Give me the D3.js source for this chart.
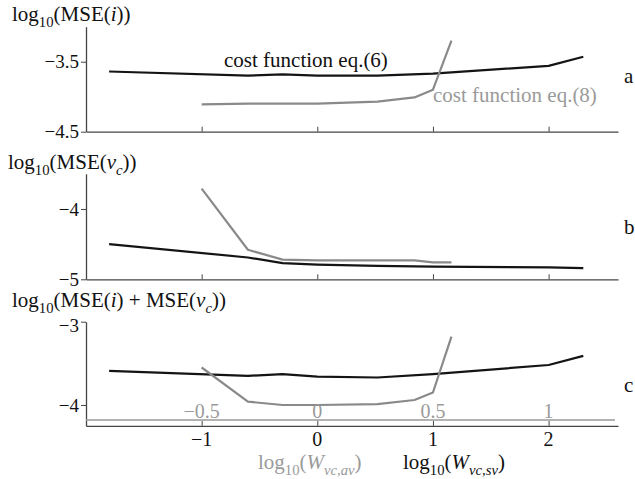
<!DOCTYPE html>
<html lang="en">
<head>
  <meta charset="utf-8">
  <title>MSE versus weights</title>
  <script src="https://d3js.org/d3.v7.js"></script>
  <style>
    body { margin: 0; background: #fff; }
  </style>
</head>
<body>
  <div id="my_dataviz"></div>

  <script>
    // x positions, log10(W_vc,sv) for eq.(6) and log10(W_vc,av) for eq.(8)
    var xSv = [-1.8, -0.6, -0.3, 0, 0.52, 1, 2, 2.3];
    var xAv = [-0.5, -0.3, -0.15, 0, 0.26, 0.42, 0.5, 0.58];

    // panel a : log10(MSE(i))
    var mseI_eq6 = [-3.64, -3.70, -3.68, -3.70, -3.70, -3.67, -3.56, -3.43];
    var mseI_eq8 = [-4.11, -4.10, -4.10, -4.10, -4.07, -4.01, -3.90, -3.20];
    // panel b : log10(MSE(vc))
    var mseV_eq6 = [-4.50, -4.69, -4.77, -4.79, -4.81, -4.82, -4.83, -4.84];
    var mseV_eq8 = [-3.71, -4.58, -4.72, -4.73, -4.73, -4.73, -4.76, -4.76];
    // panel c : log10(MSE(i) + MSE(vc))
    var mseS_eq6 = [-3.59, -3.65, -3.63, -3.66, -3.67, -3.63, -3.52, -3.41];
    var mseS_eq8 = [-3.55, -3.96, -4.00, -4.00, -3.99, -3.94, -3.85, -3.18];

    // tick labels
    var xTicksSv = [-1, 0, 1, 2];
    var xTicksAv = [-0.5, 0, 0.5, 1];
    var yTicksA = [-3.5, -4.5];
    var yTicksB = [-4, -5];
    var yTicksC = [-3, -4];

    var black = "#141414", gray = "#8a8a8a", grayText = "#9a9a9a", axisCol = "#444";
    var serif = "'Liberation Serif'";

    var svg = d3.select("#my_dataviz")
      .append("svg")
      .attr("width", 635)
      .attr("height", 479)
      .attr("font-family", serif);

    var x = d3.scaleLinear().domain([-2, 2.6]).range([86, 618]);
    var xg = d3.scaleLinear().domain([-1, 1.3]).range([86, 618]);

    var fmt = function(d) { return String(d).replace("-", "\u2212"); };

    // write a label made of pieces: [text, kind]
    function mathText(g, parts, px, py, size, color, anchor) {
      var t = g.append("text")
        .attr("x", px).attr("y", py)
        .attr("font-family", serif)
        .attr("font-size", size)
        .attr("fill", color)
        .attr("text-anchor", anchor || "start");
      parts.forEach(function(p) {
        var s = t.append("tspan").text(p[0]);
        if (p[1] == "i") s.attr("font-style", "italic");
        if (p[1] == "sub" || p[1] == "isub") {
          s.attr("font-size", size * 0.7).attr("dy", size * 0.3);
          if (p[1] == "isub") s.attr("font-style", "italic");
        }
        if (p[2] == "up") s.attr("dy", -size * 0.3);
      });
      return t;
    }

    var panels = [
      { top: -3, bottom: -4.5, y0: 26.7, y1: 131.7, ticks: yTicksA, a: mseI_eq6, b: mseI_eq8, letter: "a", ly: 83,
        title: [["log"], ["10", "sub"], ["(MSE(", "", "up"], ["i", "i"], ["))"]], ty: 21, tx: 12, shiftTop: 0 },
      { top: -3.5, bottom: -5, y0: 173.8, y1: 279.3, ticks: yTicksB, a: mseV_eq6, b: mseV_eq8, letter: "b", ly: 234,
        title: [["log"], ["10", "sub"], ["(MSE(", "", "up"], ["v", "i"], ["c", "isub"], ["))", "", "up"]], ty: 169, tx: 8, shiftTop: 0 },
      { top: -3, bottom: -4.25, y0: 321.7, y1: 425.8, ticks: yTicksC, a: mseS_eq6, b: mseS_eq8, letter: "c", ly: 392,
        title: [["log"], ["10", "sub"], ["(MSE(", "", "up"], ["i", "i"], [") + MSE("], ["v", "i"], ["c", "isub"], ["))", "", "up"]], ty: 307, tx: 12, shiftTop: 4 }
    ];

    panels.forEach(function(p) {
      var y = d3.scaleLinear().domain([p.bottom, p.top]).range([p.y1, p.y0]);
      var g = svg.append("g");

      // y axis
      var ya = g.append("g")
        .attr("transform", "translate(86,0)")
        .call(d3.axisLeft(y).tickValues(p.ticks).tickSize(5).tickSizeOuter(0).tickFormat(fmt))
        .attr("font-family", serif);
      ya.select(".domain").attr("stroke", axisCol).attr("stroke-width", 1.3);
      ya.selectAll(".tick line").attr("stroke", axisCol);
      ya.selectAll(".tick text")
        .attr("font-family", serif)
        .attr("font-size", 19).attr("fill", "#111").attr("x", -7)
        .attr("y", function(d) { return d == p.top ? p.shiftTop : 0; });

      // x axis, ticks pointing up
      var xa = g.append("g")
        .attr("transform", "translate(0," + p.y1 + ")")
        .call(d3.axisTop(x).tickValues(xTicksSv).tickSize(5).tickSizeOuter(0).tickFormat(""));
      xa.select(".domain").attr("stroke", axisCol).attr("stroke-width", 1.3);
      xa.selectAll(".tick line").attr("stroke", axisCol);

      var line = d3.line()
        .x(function(d) { return d[0]; })
        .y(function(d) { return y(d[1]); });

      g.append("path")
        .datum(xSv.map(function(v, i) { return [x(v), p.a[i]]; }))
        .attr("fill", "none").attr("stroke", black).attr("stroke-width", 2.2)
        .attr("stroke-linejoin", "round")
        .attr("d", line);
      g.append("path")
        .datum(xAv.map(function(v, i) { return [xg(v), p.b[i]]; }))
        .attr("fill", "none").attr("stroke", gray).attr("stroke-width", 2.2)
        .attr("stroke-linejoin", "round")
        .attr("d", line);

      mathText(g, p.title, p.tx, p.ty, 21, "#111");

      g.append("text")
        .attr("x", 624).attr("y", p.ly)
        .attr("font-family", serif)
        .attr("font-size", 21).attr("fill", "#111")
        .text(p.letter);
    });

    // secondary (gray) axis inside panel c
    var gA = svg.append("g");
    gA.append("line")
      .attr("x1", 86).attr("x2", 615).attr("y1", 420).attr("y2", 420)
      .attr("stroke", "#9a9a9a").attr("stroke-width", 1.6);
    gA.selectAll(".gl")
      .data(xTicksAv)
      .enter().append("text")
      .attr("x", function(d) { return xg(d); })
      .attr("y", 418)
      .attr("text-anchor", "middle")
      .attr("font-family", serif)
      .attr("font-size", 20).attr("fill", grayText)
      .text(fmt);

    // black tick labels under panel c
    svg.selectAll(".bl")
      .data(xTicksSv)
      .enter().append("text")
      .attr("x", function(d) { return x(d); })
      .attr("y", 446)
      .attr("text-anchor", "middle")
      .attr("font-family", serif)
      .attr("font-size", 20).attr("fill", "#111")
      .text(fmt);

    // axis titles
    mathText(svg, [["log"], ["10", "sub"], ["(", "", "up"], ["W", "i"], ["vc,av", "isub"], [")", "", "up"]], 258, 469, 21, grayText);
    mathText(svg, [["log"], ["10", "sub"], ["(", "", "up"], ["W", "i"], ["vc,sv", "isub"], [")", "", "up"]], 403, 469, 21, "#111");

    // annotations
    svg.append("text").attr("x", 224).attr("y", 67)
      .attr("font-family", serif).attr("font-size", 21).attr("fill", "#111")
      .text("cost function eq.(6)");
    svg.append("text").attr("x", 433).attr("y", 102)
      .attr("font-family", serif).attr("font-size", 21).attr("fill", grayText)
      .text("cost function eq.(8)");
  </script>
</body>
</html>
